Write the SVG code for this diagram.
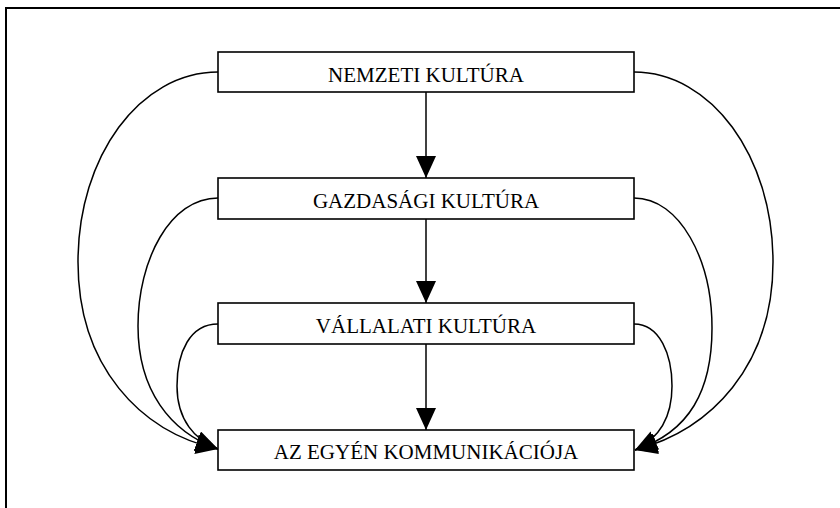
<svg xmlns="http://www.w3.org/2000/svg" width="840" height="508" viewBox="0 0 840 508">
<style>
.box{fill:#fff;stroke:#000;stroke-width:1.6}
.lbl{font-family:"Liberation Serif","Times New Roman",serif;font-size:21px;fill:#000;text-anchor:middle}
.con{fill:none;stroke:#000;stroke-width:1.5}
.frame{fill:none;stroke:#000;stroke-width:2}
</style>
<defs>
<marker id="ah" viewBox="0 0 22 20" refX="22" refY="10" markerWidth="22" markerHeight="20" markerUnits="userSpaceOnUse" orient="auto">
<path d="M0,0 L22,10 L0,20 z" fill="#000"/>
</marker>
</defs>
<path class="frame" d="M840,8 H6 V508"/>
<g id="connectors">
<path class="con" marker-end="url(#ah)" d="M426,92 V178"/>
<path class="con" marker-end="url(#ah)" d="M426,219 V303"/>
<path class="con" marker-end="url(#ah)" d="M426,344 V430"/>
<path class="con" marker-end="url(#ah)" d="M218,72 C140,72 78,156 78,262 C78,366 140,432 218,449"/>
<path class="con" marker-end="url(#ah)" d="M218,198 C170,198 138,260 138,326 C138,390 170,432 218,449"/>
<path class="con" marker-end="url(#ah)" d="M218,324 C190,324 177,352 177,386 C177,420 195,440 218,449"/>
<path class="con" marker-end="url(#ah)" d="M634,72 C711,72 773,156 773,262 C773,366 711,430 635,450"/>
<path class="con" marker-end="url(#ah)" d="M634,198 C680,198 712,260 712,328 C712,390 690,432 635,450"/>
<path class="con" marker-end="url(#ah)" d="M634,324 C660,324 672,355 672,386 C672,416 660,438 635,450"/>
</g>
<g id="n1"><rect class="box" x="218" y="52" width="416" height="40"/><text class="lbl" x="426" y="82">NEMZETI KULTÚRA</text></g>
<g id="n2"><rect class="box" x="218" y="178" width="416" height="41"/><text class="lbl" x="426" y="208">GAZDASÁGI KULTÚRA</text></g>
<g id="n3"><rect class="box" x="218" y="303" width="416" height="41"/><text class="lbl" x="426" y="333">VÁLLALATI KULTÚRA</text></g>
<g id="n4"><rect class="box" x="218" y="430" width="416" height="40"/><text class="lbl" x="426" y="459">AZ EGYÉN KOMMUNIKÁCIÓJA</text></g>
</svg>
